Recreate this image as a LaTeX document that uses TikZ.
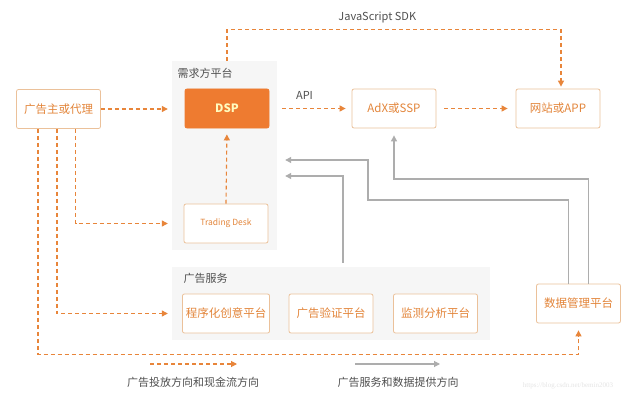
\documentclass[tikz,border=0pt]{standalone}
\usepackage{fontspec}
\setmainfont{Noto Sans CJK SC}
\newfontfamily\wmfont{Liberation Serif}
\usetikzlibrary{arrows.meta}
\definecolor{adorange}{HTML}{E8853A}
\definecolor{boxline}{HTML}{EBC19A}
\definecolor{boxtext}{HTML}{E3853A}
\definecolor{dspfill}{HTML}{EE7B30}
\definecolor{groupbg}{HTML}{F6F6F6}
\definecolor{datagray}{HTML}{ADADAD}
\definecolor{labeltext}{HTML}{505050}
\begin{document}
\begin{tikzpicture}[x=1pt,y=-1pt,
    box/.style={draw=boxline,line width=0.8pt,fill=white,rounded corners=2pt,minimum width=84pt,minimum height=39pt,text=boxtext,font=\fontsize{11.5}{13}\selectfont},
    group/.style={fill=groupbg,inner sep=0pt},
    title/.style={text=labeltext,font=\fontsize{11}{13}\selectfont},
    flow/.style={adorange,line width=1.1pt,dash pattern=on 4pt off 3pt,-{Triangle[length=6pt,width=6pt]}},
    data/.style={datagray,line width=1.1pt,-{Triangle[length=6pt,width=6pt]}}]
    \useasboundingbox[fill=white] (0,0) rectangle (640,404);
    % groups
    \node[group,minimum width=105pt,minimum height=189pt] (demand) at (224.5,155.5) {};
    \node[group,minimum width=318pt,minimum height=73pt] (service) at (331,303.5) {};
    \node[title,anchor=west] (demandlbl) at (174,73) {需求方平台};
    \node[title,anchor=west] (servicelbl) at (180,278) {广告服务};
    % boxes
    \node[box] (adv) at (58.5,109) {广告主或代理};
    \node[box,draw=dspfill,fill=dspfill,text=white!75!yellow,font=\fontsize{11.5}{13}\selectfont\bfseries] (dsp) at (227,108.5) {DSP};
    \node[box,font=\fontsize{8.5}{10}\selectfont] (td) at (226,223.5) {Trading Desk};
    \node[box] (adx) at (394,108.5) {AdX或SSP};
    \node[box] (site) at (558,108.5) {网站或APP};
    \node[box] (creative) at (226,313.5) {程序化创意平台};
    \node[box] (verify) at (331,313.5) {广告验证平台};
    \node[box] (monitor) at (435.5,313.5) {监测分析平台};
    \node[box] (dmp) at (578.5,303.5) {数据管理平台};
    % ad flow
    \draw[flow,shorten >=4pt] (adv.east) -- (adv -| demand.west);
    \draw[flow,shorten >=4pt] ([xshift=17pt]adv.south) |- (td -| demand.west);
    \draw[flow,shorten >=4pt] ([xshift=-1.5pt]adv.south) |- (creative -| service.west);
    \draw[flow,shorten >=7pt] ([xshift=-20.5pt]adv.south) -- ++(0,225.5) -| (dmp.south);
    \draw[flow,shorten >=6pt] (td.north) -- (dsp.south);
    \draw[flow,shorten <=13pt,shorten >=6pt] (dsp.east) -- (adx.west)
        node[title,midway,above=5pt,xshift=-6pt] (api) {API};
    \draw[flow,shorten <=8pt,shorten >=8pt] (adx.east) -- (site.west);
    \draw[flow,shorten >=2pt] (dsp.north |- demand.north) -- ++(0,-31) -| ([xshift=3pt]site.north)
        node[title,pos=0.225,above=3pt] (sdk) {JavaScript SDK};
    % data flow
    \draw[data,shorten >=8pt] ([xshift=-10pt]dmp.north) |- (368,200) |- ([yshift=-4.5pt]demand.east);
    \draw[data,shorten >=7pt] ([xshift=10pt]dmp.north) |- (adx |- 0,179) -- (adx.south);
    \draw[data,shorten <=4pt,shorten >=8pt] ([xshift=12pt]service.north) |- ([yshift=-20.5pt]demand.east);
    % legend
    \coordinate (k1) at (150,364);
    \coordinate (k2) at (355,364);
    \draw[flow] (k1) -- ++(87,0);
    \draw[data] (k2) -- ++(85,0);
    \node[title] (leg1) at (193,382) {广告投放方向和现金流方向};
    \node[title] (leg2) at (398,382) {广告服务和数据提供方向};
    \node[text=black!10,font=\wmfont\fontsize{7}{8}\selectfont] (wm) at (568,386) {https://blog.csdn.net/bemin2003};
\end{tikzpicture}
\end{document}
